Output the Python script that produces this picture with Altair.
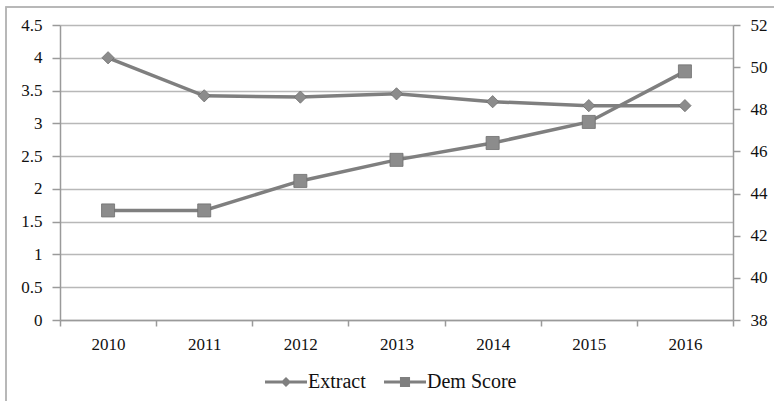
import altair as alt
import pandas as pd

years = ["2010", "2011", "2012", "2013", "2014", "2015", "2016"]
extract = [4.0, 3.42, 3.40, 3.45, 3.33, 3.27, 3.27]
dem_score = [43.2, 43.2, 44.6, 45.6, 46.4, 47.4, 49.8]
series = ["Extract", "Dem Score"]
left_ticks = [0, 0.5, 1, 1.5, 2, 2.5, 3, 3.5, 4, 4.5]
right_ticks = [38, 40, 42, 44, 46, 48, 50, 52]

df = pd.DataFrame({"year": years, "extract": extract, "dem": dem_score})
legend_df = pd.DataFrame({"series": series})

FONT = "Liberation Serif"
LINE = "#7f7f7f"
MARK = "#8c8c8c"
AXIS = "#9a9a9a"
GRID = "#b8b8b8"
TXT = "#111111"

diamond_path = "M-1,-0.07H1V0.07H-1Z M0,-0.24L0.24,0L0,0.24L-0.24,0Z"
square_path = "M-1,-0.07H1V0.07H-1Z M-0.24,-0.24H0.24V0.24H-0.24Z"

xenc = alt.X(
    "year:O",
    sort=years,
    scale=alt.Scale(type="band", paddingInner=0, paddingOuter=0),
    axis=alt.Axis(
        title=None, labelAngle=0, tickBand="extent", grid=False,
        domainColor=AXIS, domainWidth=1.5, tickColor=AXIS, tickWidth=1.5,
        tickSize=6, labelPadding=10, labelFont=FONT, labelFontSize=17,
        labelColor=TXT,
    ),
)

base = alt.Chart(df).encode(x=xenc)

yleft = alt.Y(
    "extract:Q",
    scale=alt.Scale(domain=[0, 4.5], nice=False, zero=False),
    axis=alt.Axis(
        title=None, orient="left", values=left_ticks, format="~g",
        grid=True, gridColor=GRID, gridWidth=1.5,
        domainColor=AXIS, domainWidth=1.5, tickColor=AXIS, tickWidth=1.5,
        tickSize=8, labelPadding=10, labelFont=FONT, labelFontSize=17,
        labelColor=TXT,
    ),
)

yright = alt.Y(
    "dem:Q",
    scale=alt.Scale(domain=[38, 52], nice=False, zero=False),
    axis=alt.Axis(
        title=None, orient="right", values=right_ticks, format="~g",
        grid=False, domainColor=AXIS, domainWidth=1.5, tickColor=AXIS,
        tickWidth=1.5, tickSize=7, labelPadding=10, labelFont=FONT,
        labelFontSize=17, labelColor=TXT,
    ),
)

frame = alt.Chart(legend_df).mark_rect(
    fill="white", fillOpacity=0, stroke="#b4b4b4", strokeWidth=1.5
).encode(
    x=alt.value(-54), x2=alt.value(760), y=alt.value(-18), y2=alt.value(420)
)

ext_line = base.mark_line(color=LINE, strokeWidth=3.5).encode(y=yleft)
ext_pts = base.mark_point(
    shape="diamond", filled=True, size=150, color=MARK, opacity=1,
    stroke="#6f6f6f", strokeWidth=0.8,
).encode(y=yleft)

legend_layer = alt.Chart(legend_df).mark_point(
    filled=True, color=LINE, opacity=0, size=1764
).encode(
    x=alt.value(0),
    y=alt.value(0),
    shape=alt.Shape(
        "series:N",
        sort=series,
        scale=alt.Scale(domain=series, range=[diamond_path, square_path]),
        legend=alt.Legend(
            title=None, orient="none", direction="horizontal",
            legendX=205, legendY=336, symbolSize=1764, symbolOpacity=1,
            symbolFillColor=LINE, symbolStrokeWidth=0,
            labelFont=FONT, labelFontSize=20, labelColor=TXT,
            labelOffset=1, columnPadding=18,
        ),
    ),
)

dem_line = base.mark_line(color=LINE, strokeWidth=3.5).encode(y=yright)
dem_pts = base.mark_point(
    shape="square", filled=True, size=170, color=MARK, opacity=1,
    stroke="#6f6f6f", strokeWidth=0.8,
).encode(y=yright)

left = alt.layer(frame, ext_line, ext_pts, legend_layer)
right = alt.layer(dem_line, dem_pts)

chart = (
    alt.layer(left, right)
    .resolve_scale(y="independent")
    .properties(
        width=673, height=295,
        autosize=alt.AutoSizeParams(type="none"),
        padding={"left": 60, "top": 25, "right": 41, "bottom": 81},
        background="white",
    )
    .configure_view(stroke=None)
)

chart.save("out.html", embed_options={"renderer": "svg", "actions": False})
